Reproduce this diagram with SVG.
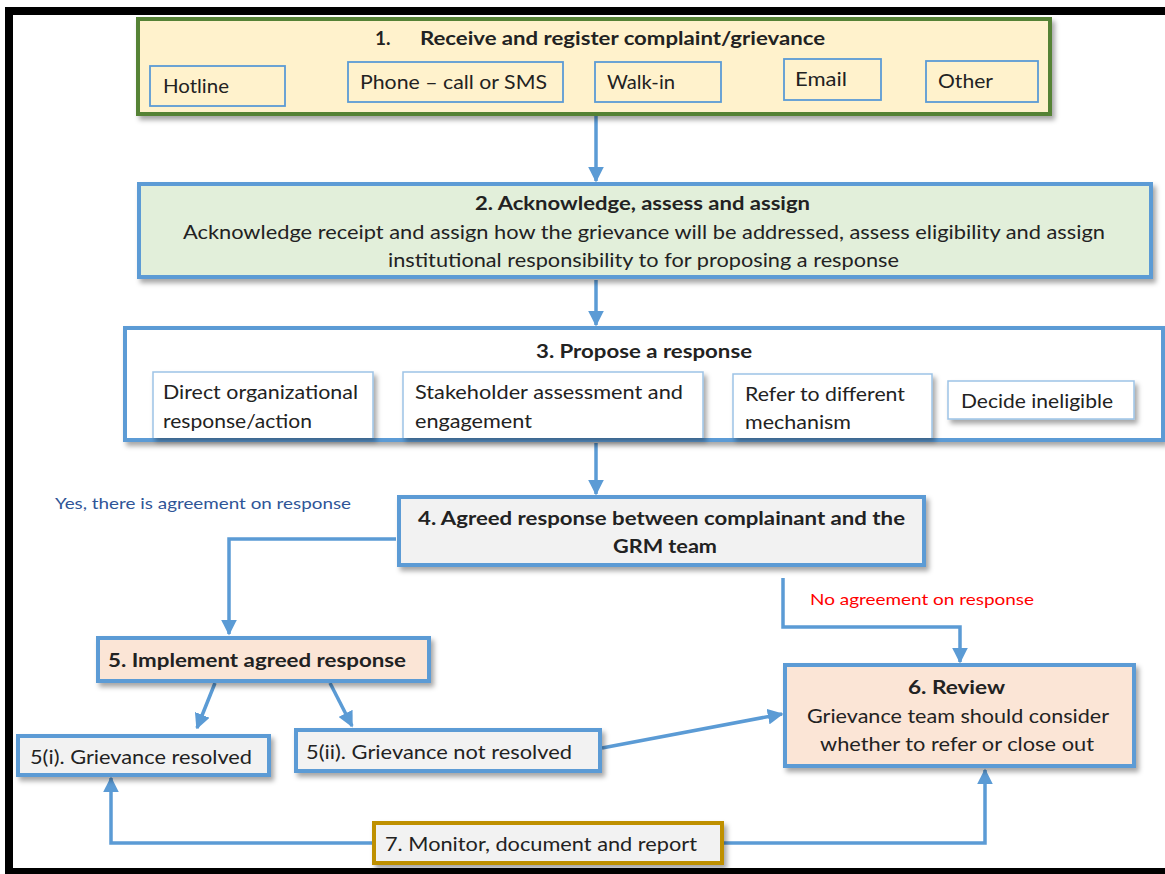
<svg xmlns="http://www.w3.org/2000/svg" width="1165" height="874" viewBox="0 0 1165 874">
<defs>
<filter id="sh" x="-10%" y="-10%" width="130%" height="140%">
<feDropShadow dx="3" dy="4" stdDeviation="2.5" flood-color="#000" flood-opacity="0.35"/>
</filter>
<marker id="ah" viewBox="0 0 10 10" refX="9" refY="5" markerWidth="4.5" markerHeight="4.5" orient="auto" markerUnits="strokeWidth">
<path d="M0,0 L10,5 L0,10 z" fill="#5B9BD5"/>
</marker>
<style>
text{font-family:Lato,"Open Sans","Liberation Sans",sans-serif;fill:#222;font-size:19px}
.b{font-weight:bold}
.main{stroke:#5B9BD5;stroke-width:4}
.sub{fill:none;stroke:#5B9BD5;stroke-width:1.8}
.sub3{fill:#fff;stroke:#9DC3E6;stroke-width:1.5}
.con{fill:none;stroke:#5B9BD5;stroke-width:3.5}
.lab{font-size:15px}
</style>
</defs>
<rect x="0" y="0" width="1165" height="874" fill="#fff"/>
<rect x="9" y="11" width="1175" height="861" fill="none" stroke="#000" stroke-width="8"/>

<g id="connectors">
<path class="con" d="M596,116 V181" marker-end="url(#ah)"/>
<path class="con" d="M596,280 V325" marker-end="url(#ah)"/>
<path class="con" d="M596,443 V494" marker-end="url(#ah)"/>
<path class="con" d="M396,539 H229 V634" marker-end="url(#ah)"/>
<path class="con" d="M783,578 V627 H960 V662" marker-end="url(#ah)"/>
<path class="con" d="M215,683 L197,728" marker-end="url(#ah)"/>
<path class="con" d="M330,683 L352,726" marker-end="url(#ah)"/>
<path class="con" d="M602,748 L782,714" marker-end="url(#ah)"/>
<path class="con" d="M372,843 H111 V778" marker-end="url(#ah)"/>
<path class="con" d="M724,843 H985 V770" marker-end="url(#ah)"/>
<text class="lab" x="55" y="509" fill="#2F5597" style="fill:#2F5597" textLength="296" lengthAdjust="spacingAndGlyphs">Yes, there is agreement on response</text>
<text class="lab" x="810" y="605" style="fill:#FF0000" textLength="224" lengthAdjust="spacingAndGlyphs">No agreement on  response</text>
</g>

<g id="node1">
<rect x="138" y="19" width="912" height="95" fill="#FFF2CC" stroke="#548235" stroke-width="4" filter="url(#sh)"/>
<text class="b" x="375" y="45">1.</text>
<text class="b" x="420" y="45" textLength="405" lengthAdjust="spacingAndGlyphs">Receive and register complaint/grievance</text>
<rect class="sub" x="150" y="66" width="135" height="40"/>
<text x="163" y="93" textLength="66" lengthAdjust="spacingAndGlyphs">Hotline</text>
<rect class="sub" x="348" y="62" width="215" height="40"/>
<text x="360" y="89" textLength="187" lengthAdjust="spacingAndGlyphs">Phone  – call or SMS</text>
<rect class="sub" x="595" y="62" width="126" height="40"/>
<text x="607" y="89" textLength="68" lengthAdjust="spacingAndGlyphs">Walk-in</text>
<rect class="sub" x="784" y="59" width="97" height="41"/>
<text x="795" y="86" textLength="52" lengthAdjust="spacingAndGlyphs">Email</text>
<rect class="sub" x="926" y="61" width="112" height="41"/>
<text x="938" y="88" textLength="55" lengthAdjust="spacingAndGlyphs">Other</text>
</g>

<g id="node2">
<rect class="main" x="139" y="184" width="1012" height="93" fill="#E2EFDA" filter="url(#sh)"/>
<text class="b" x="475" y="210" textLength="335" lengthAdjust="spacingAndGlyphs">2. Acknowledge, assess and assign</text>
<text x="183" y="239" textLength="922" lengthAdjust="spacingAndGlyphs">Acknowledge receipt and assign how the grievance will be addressed, assess eligibility and assign</text>
<text x="388" y="267" textLength="511" lengthAdjust="spacingAndGlyphs">institutional  responsibility  to for proposing  a response</text>
</g>

<g id="node3">
<rect class="main" x="125" y="328" width="1038" height="112" fill="#fff" filter="url(#sh)"/>
<text class="b" x="536" y="358" textLength="216" lengthAdjust="spacingAndGlyphs">3. Propose a response</text>
<path class="sub3" d="M153,438 V372 H373 V438" filter="url(#sh)"/>
<text x="163" y="399" textLength="195" lengthAdjust="spacingAndGlyphs">Direct organizational</text>
<text x="163" y="428" textLength="149" lengthAdjust="spacingAndGlyphs">response/action</text>
<path class="sub3" d="M403,438 V372 H703 V438" filter="url(#sh)"/>
<text x="415" y="399" textLength="268" lengthAdjust="spacingAndGlyphs">Stakeholder  assessment  and</text>
<text x="415" y="428" textLength="117" lengthAdjust="spacingAndGlyphs">engagement</text>
<path class="sub3" d="M733,438 V374 H932 V438" filter="url(#sh)"/>
<text x="745" y="401" textLength="160" lengthAdjust="spacingAndGlyphs">Refer to different</text>
<text x="745" y="429" textLength="106" lengthAdjust="spacingAndGlyphs">mechanism</text>
<rect class="sub3" x="948" y="381" width="186" height="38" filter="url(#sh)"/>
<text x="961" y="408" textLength="152" lengthAdjust="spacingAndGlyphs">Decide ineligible</text>
</g>

<g id="node4">
<rect class="main" x="399" y="497" width="525" height="68" fill="#F2F2F2" filter="url(#sh)"/>
<text class="b" x="418" y="525" textLength="487" lengthAdjust="spacingAndGlyphs">4. Agreed response between complainant and the</text>
<text class="b" x="613" y="553" textLength="104" lengthAdjust="spacingAndGlyphs">GRM team</text>
</g>

<g id="node5">
<rect class="main" x="98" y="638" width="331" height="43" fill="#FBE5D6" filter="url(#sh)"/>
<text class="b" x="108" y="667" textLength="298" lengthAdjust="spacingAndGlyphs">5. Implement agreed response</text>
</g>

<g id="node5i">
<rect class="main" x="18" y="736" width="251" height="39" fill="#F2F2F2" filter="url(#sh)"/>
<text x="30" y="764" textLength="222" lengthAdjust="spacingAndGlyphs">5(i). Grievance resolved</text>
</g>

<g id="node5ii">
<rect class="main" x="296" y="730" width="304" height="41" fill="#F2F2F2" filter="url(#sh)"/>
<text x="306" y="759" textLength="266" lengthAdjust="spacingAndGlyphs">5(ii). Grievance not resolved</text>
</g>

<g id="node6">
<rect class="main" x="785" y="665" width="349" height="101" fill="#FBE5D6" filter="url(#sh)"/>
<text class="b" x="908" y="694" textLength="97" lengthAdjust="spacingAndGlyphs">6. Review</text>
<text x="807" y="723" textLength="302" lengthAdjust="spacingAndGlyphs">Grievance team should  consider</text>
<text x="820" y="751" textLength="274" lengthAdjust="spacingAndGlyphs">whether to refer or close  out</text>
</g>

<g id="node7">
<rect x="374" y="823" width="348" height="40" fill="#F2F2F2" stroke="#BF9000" stroke-width="4" filter="url(#sh)"/>
<text x="385" y="851" textLength="312" lengthAdjust="spacingAndGlyphs">7. Monitor, document and report</text>
</g>
</svg>
